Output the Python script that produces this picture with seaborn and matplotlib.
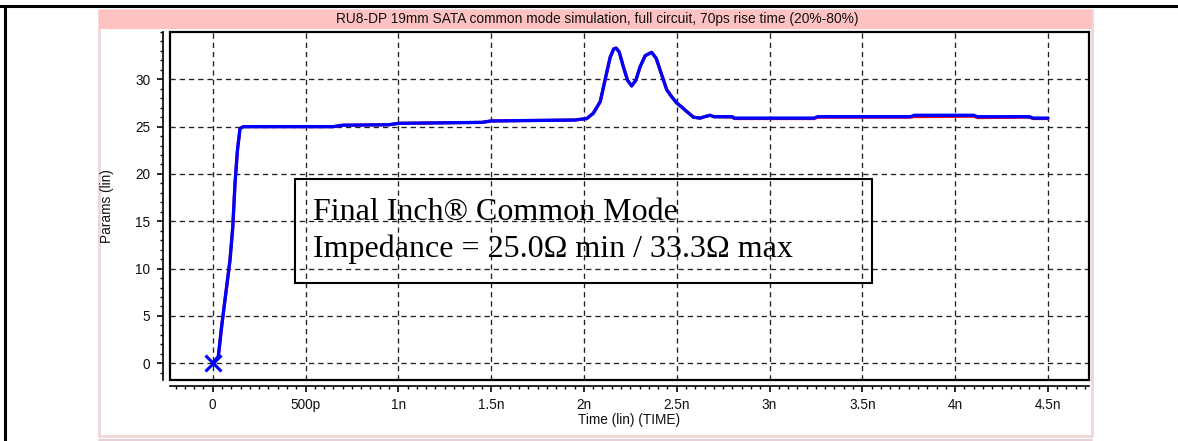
import numpy as np
import pandas as pd
import matplotlib
matplotlib.use("Agg")
import matplotlib.pyplot as plt
from matplotlib.patches import Rectangle
from matplotlib.lines import Line2D
from matplotlib.ticker import MultipleLocator
import seaborn as sns

# ---------------- data ----------------
title = "RU8-DP 19mm SATA common mode simulation, full circuit, 70ps rise time (20%-80%)"
x_label = "Time (lin) (TIME)"
y_label = "Params (lin)"
x_ticks = [0, 0.5, 1.0, 1.5, 2.0, 2.5, 3.0, 3.5, 4.0, 4.5]
x_tick_labels = ["0", "500p", "1n", "1.5n", "2n", "2.5n", "3n", "3.5n", "4n", "4.5n"]
y_ticks = [0, 5, 10, 15, 20, 25, 30]
y_tick_labels = ["0", "5", "10", "15", "20", "25", "30"]
annotation_lines = ["Final Inch\u00ae Common Mode",
                    "Impedance = 25.0\u03a9 min / 33.3\u03a9 max"]

time_ns = [0.0, 0.03, 0.048, 0.057, 0.075, 0.093, 0.108, 0.12, 0.133, 0.147,
           0.165, 0.65, 0.70, 0.95, 1.00, 1.45, 1.50, 1.95, 2.015, 2.05,
           2.088, 2.114, 2.141, 2.16, 2.173, 2.19, 2.212, 2.235, 2.257, 2.28,
           2.302, 2.33, 2.365, 2.39, 2.41, 2.446, 2.475, 2.5, 2.525, 2.554,
           2.59, 2.626, 2.65, 2.68, 2.70, 2.80, 2.81, 3.24, 3.26, 3.76,
           3.78, 4.10, 4.12, 4.40, 4.42, 4.5]
blue_z = [0.0, 0.7, 3.9, 5.3, 8.1, 10.9, 14.4, 19.0, 22.5, 24.8,
          25.0, 25.0, 25.15, 25.2, 25.35, 25.45, 25.6, 25.7, 25.85, 26.4,
          27.65, 29.95, 32.3, 33.2, 33.3, 32.9, 31.35, 29.9, 29.3, 29.9,
          31.3, 32.5, 32.85, 32.2, 31.0, 28.9, 28.1, 27.5, 27.1, 26.6,
          26.0, 25.9, 26.05, 26.2, 26.05, 26.05, 25.9, 25.9, 26.05, 26.05,
          26.2, 26.2, 26.05, 26.05, 25.9, 25.9]
red_z = [0.0, 0.7, 3.9, 5.3, 8.1, 10.9, 14.4, 19.0, 22.5, 24.8,
         25.0, 25.0, 25.15, 25.2, 25.35, 25.45, 25.6, 25.7, 25.85, 26.4,
         27.65, 29.95, 32.3, 33.2, 33.3, 32.9, 31.35, 29.9, 29.3, 29.9,
         31.3, 32.5, 32.85, 32.2, 31.0, 28.9, 28.1, 27.5, 27.1, 26.6,
         26.0, 25.9, 26.05, 26.2, 26.05, 26.0, 25.85, 25.85, 26.0, 26.0,
         26.05, 26.1, 25.95, 26.0, 25.85, 25.85]
start_marker_t = [0.0]
start_marker_z = [0.0]

# ---------------- figure ----------------
sns.set_style("white")
plt.rcParams["font.family"] = ["Liberation Sans", "DejaVu Sans"]

W, H = 1178, 441
fig = plt.figure(figsize=(W / 100, H / 100), dpi=100)
fig.patch.set_facecolor("white")

def fx(px):
    return px / W

def fy(py):
    return 1 - py / H

# outer black border lines (top and left)
fig.add_artist(Line2D([0, 1], [fy(6), fy(6)], color="black", lw=2.2,
                      transform=fig.transFigure, zorder=-5))
fig.add_artist(Line2D([fx(4.5), fx(4.5)], [fy(6), 0], color="black", lw=2.2,
                      transform=fig.transFigure, zorder=-5))

# pink panel
pl, pr, pt, pb = 98.5, 1092, 10, 436
fig.add_artist(Rectangle((fx(pl), fy(pb)), fx(pr) - fx(pl), fy(pt) - fy(pb),
                         transform=fig.transFigure, facecolor="white",
                         edgecolor="#f2d6d6", lw=2, zorder=-10))
fig.add_artist(Line2D([fx(pl), fx(pr)], [fy(440), fy(440)], color="#e6d0d6", lw=1.5,
                      transform=fig.transFigure, zorder=-5))
fig.add_artist(Rectangle((fx(pl), fy(29)), fx(pr) - fx(pl), fy(pt) - fy(29),
                         transform=fig.transFigure, facecolor="#ffc2c2",
                         edgecolor="#ffc2c2", lw=0, zorder=-5))
fig.text(fx(597), fy(19.5), title, ha="center", va="center", fontsize=9.9,
         color="#111111")

# plot axes
al, ar, at, ab = 169.5, 1089.3, 32, 380
ax = fig.add_axes([fx(al), fy(ab), fx(ar) - fx(al), fy(at) - fy(ab)])
ax.set_facecolor("none")

df_red = pd.DataFrame({"t": time_ns, "z": red_z})
df_blue = pd.DataFrame({"t": time_ns, "z": blue_z})
sns.lineplot(data=df_red, x="t", y="z", ax=ax, color="#ff0000", lw=2.2,
             sort=False, estimator=None, zorder=3)
sns.lineplot(data=df_blue, x="t", y="z", ax=ax, color="#0000ff", lw=2.4,
             sort=False, estimator=None, zorder=4)
ax.plot(start_marker_t, start_marker_z, marker="x", color="#0000ff", ms=11,
        mew=2.2, ls="none", zorder=5, clip_on=False)

ax.set_xlim(-0.233, 4.723)
ax.set_ylim(-1.77, 35.0)
ax.set_xticks(x_ticks)
ax.set_xticklabels(x_tick_labels)
ax.set_yticks(y_ticks)
ax.set_yticklabels(y_tick_labels)
ax.xaxis.set_minor_locator(MultipleLocator(0.05))
ax.yaxis.set_minor_locator(MultipleLocator(1))

ax.grid(True, which="major", color="#222222", lw=0.95, ls=(0, (4, 3)))
ax.set_axisbelow(True)

for s in ["top", "right"]:
    ax.spines[s].set_visible(False)
for s in ["left", "bottom"]:
    ax.spines[s].set_position(("outward", 4.5))
    ax.spines[s].set_color("black")
    ax.spines[s].set_linewidth(1.2)

ax.tick_params(axis="both", which="both", bottom=True, left=True,
               top=False, right=False)
ax.tick_params(axis="both", which="major", direction="out", length=4.3, width=1.2,
               color="black", labelsize=9.8, labelcolor="#111111")
ax.tick_params(axis="both", which="minor", direction="out", length=2.2, width=1.0,
               color="black")
ax.tick_params(axis="y", which="major", pad=5)
ax.tick_params(axis="x", which="major", pad=4)

# plot frame
ax.add_patch(Rectangle((0, 0), 1, 1, transform=ax.transAxes, fill=False,
                       edgecolor="black", lw=1.6, zorder=6, clip_on=False))

ax.set_xlabel(x_label, fontsize=9.8, color="#111111", labelpad=1)
ax.set_ylabel(y_label, fontsize=9.8, color="#111111")
ax.yaxis.set_label_coords((114 - al) / (ar - al), 0.5)

# annotation box
bl, br, bt, bb = 294.6, 872, 179.3, 282.7
ax.add_patch(Rectangle(((bl - al) / (ar - al), (ab - bb) / (ab - at)),
                       (br - bl) / (ar - al), (bb - bt) / (ab - at),
                       transform=ax.transAxes, fill=False, edgecolor="black",
                       lw=1.5, zorder=7))
for txt, base in zip(annotation_lines, [220, 257]):
    ax.text((313 - al) / (ar - al), (ab - base) / (ab - at), txt,
            transform=ax.transAxes, ha="left", va="baseline",
            fontsize=23, family=["Liberation Serif", "DejaVu Serif"],
            color="black", zorder=7)

fig.savefig("out.png", dpi=100, facecolor="white")
